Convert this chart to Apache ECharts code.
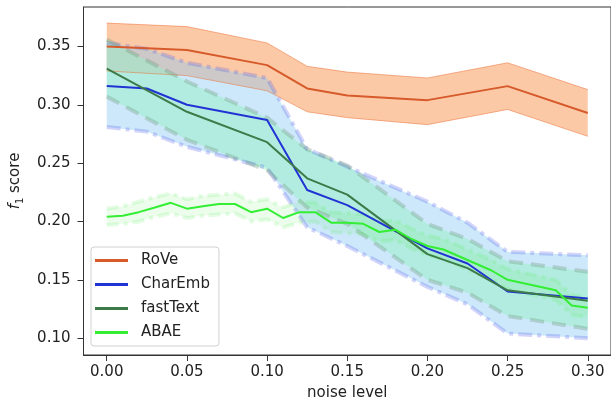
<!DOCTYPE html>
<html>
<head>
<meta charset="utf-8">
<script src="https://cdn.jsdelivr.net/npm/echarts@6/dist/echarts.min.js"></script>
<style>
  html, body { margin: 0; padding: 0; background: #fff; }
  #chart { width: 611px; height: 406px; }
</style>
</head>
<body>
<div id="chart"></div>
<script>
// tick labels
const xTicks = [0, 0.05, 0.10, 0.15, 0.20, 0.25, 0.30]
const yTicks = [0.10, 0.15, 0.20, 0.25, 0.30, 0.35]

// RoVe
const roveX = [0, 0.05, 0.10, 0.125, 0.15, 0.20, 0.25, 0.30]
const roveMean = [0.350, 0.347, 0.334, 0.314, 0.308, 0.304, 0.316, 0.293]
const roveUpper = [0.370, 0.367, 0.353, 0.333, 0.328, 0.323, 0.336, 0.313]
const roveLower = [0.329, 0.325, 0.312, 0.294, 0.289, 0.283, 0.296, 0.273]

// CharEmb
const charX = [0, 0.025, 0.05, 0.10, 0.125, 0.15, 0.20, 0.225, 0.25, 0.30]
const charMean = [0.316, 0.314, 0.300, 0.287, 0.227, 0.214, 0.177, 0.164, 0.140, 0.134]
const charUpper = [0.353, 0.348, 0.336, 0.323, 0.262, 0.247, 0.217, 0.199, 0.174, 0.171]
const charLower = [0.281, 0.277, 0.264, 0.246, 0.195, 0.179, 0.144, 0.129, 0.104, 0.100]

// fastText
const fastX = [0, 0.05, 0.10, 0.125, 0.15, 0.20, 0.225, 0.25, 0.30]
const fastMean = [0.331, 0.294, 0.268, 0.237, 0.223, 0.172, 0.160, 0.141, 0.132]
const fastUpper = [0.356, 0.320, 0.289, 0.262, 0.248, 0.198, 0.185, 0.166, 0.157]
const fastLower = [0.307, 0.270, 0.244, 0.212, 0.198, 0.150, 0.139, 0.119, 0.108]

// ABAE
const abaeX = [0, 0.01, 0.02, 0.03, 0.04, 0.05, 0.06, 0.07, 0.08, 0.09, 0.10,
  0.11, 0.12, 0.13, 0.14, 0.15, 0.16, 0.17, 0.18, 0.19, 0.20,
  0.21, 0.22, 0.23, 0.24, 0.25, 0.26, 0.27, 0.28, 0.29, 0.30]
const abaeMean = [0.204, 0.205, 0.208, 0.212, 0.216, 0.211, 0.213, 0.215, 0.215, 0.208, 0.211,
  0.203, 0.208, 0.208, 0.199, 0.199, 0.198, 0.191, 0.193, 0.185, 0.179,
  0.176, 0.170, 0.164, 0.158, 0.150, 0.147, 0.144, 0.141, 0.128, 0.126]
const abaeUpper = [0.211, 0.213, 0.217, 0.221, 0.224, 0.219, 0.222, 0.223, 0.224, 0.217, 0.219,
  0.212, 0.217, 0.216, 0.208, 0.207, 0.206, 0.200, 0.201, 0.194, 0.188,
  0.185, 0.179, 0.173, 0.167, 0.159, 0.156, 0.153, 0.150, 0.137, 0.135]
const abaeLower = [0.197, 0.198, 0.200, 0.204, 0.207, 0.203, 0.205, 0.206, 0.207, 0.200, 0.202,
  0.195, 0.199, 0.200, 0.191, 0.190, 0.189, 0.183, 0.184, 0.177, 0.171,
  0.168, 0.162, 0.156, 0.150, 0.142, 0.139, 0.136, 0.133, 0.120, 0.118]

const FONT = 'DejaVu Sans'

const zip = (xs, ys) => xs.map((x, i) => [x, ys[i]])

// filled band between lower and upper, drawn as one polygon
const band = (name, xs, lo, hi, fill) => ({
  name: name,
  type: 'custom',
  z: 1,
  silent: true,
  data: xs.map((x, i) => [x, lo[i], hi[i]]),
  encode: { x: 0, y: [1, 2] },
  renderItem: (params, api) => {
    if (params.dataIndex !== 0) return
    const pts = []
    xs.forEach((x, i) => pts.push(api.coord([x, hi[i]])))
    for (let i = xs.length - 1; i >= 0; i--) pts.push(api.coord([xs[i], lo[i]]))
    return { type: 'polygon', shape: { points: pts }, style: { fill: fill } }
  }
})

const edge = (name, xs, ys, lineStyle) => ({
  name: name,
  type: 'line',
  z: 2,
  silent: true,
  symbol: 'none',
  data: zip(xs, ys),
  lineStyle: lineStyle
})

const main = (name, xs, ys, color) => ({
  name: name,
  type: 'line',
  z: 3,
  symbol: 'none',
  color: color,
  data: zip(xs, ys),
  lineStyle: { color: color, width: 2 }
})

const charEdge = { color: 'rgba(80,90,230,0.26)', width: 4, type: [14, 5, 4, 5] }
const fastEdge = { color: 'rgba(110,150,120,0.32)', width: 4, type: [14, 8] }
const abaeEdge = { color: 'rgba(90,235,90,0.16)', width: 4, type: [12, 5, 4, 5] }
const roveEdge = { color: 'rgba(235,110,50,0.5)', width: 1 }

// y tick marks: small vertical-axis stubs drawn as a markLine-free helper axis
const chart = echarts.init(document.getElementById('chart'))
chart.setOption({
  animation: false,
  grid: {
    left: 83, top: 7, width: 533, height: 348,
    show: true, borderColor: '#333', borderWidth: 1, backgroundColor: 'transparent'
  },
  legend: {
    data: ['RoVe', 'CharEmb', 'fastText', 'ABAE'],
    orient: 'vertical',
    left: 91, top: 247,
    icon: 'rect',
    itemWidth: 33, itemHeight: 3,
    itemGap: 9,
    padding: [6, 9, 6, 4],
    backgroundColor: 'rgba(255,255,255,0.85)',
    borderColor: '#d0d0d0', borderWidth: 1, borderRadius: 3,
    textStyle: { fontFamily: FONT, fontSize: 15, color: '#222', padding: [0, 0, 0, 8] }
  },
  xAxis: {
    type: 'value',
    position: 'bottom',
    min: -0.0145, max: 0.3145,
    name: 'noise level',
    nameLocation: 'middle',
    nameGap: 31,
    nameTextStyle: { fontFamily: FONT, fontSize: 15, color: '#222' },
    axisLine: { show: true, onZero: false, lineStyle: { color: '#333' } },
    splitLine: { show: false },
    axisTick: { show: true, length: 6, lineStyle: { color: '#333' }, customValues: xTicks },
    axisLabel: {
      customValues: xTicks,
      margin: 10,
      fontFamily: FONT, fontSize: 15, color: '#222',
      formatter: v => v.toFixed(2)
    }
  },
  yAxis: {
    type: 'value',
    position: 'left',
    min: 0.0856, max: 0.3838,
    splitNumber: 5,
    name: '{f|f}{s|1}{n| score}',
    nameLocation: 'middle',
    nameRotate: 90,
    nameGap: 58,
    nameTextStyle: {
      fontFamily: FONT, fontSize: 15, color: '#222',
      rich: {
        f: { fontFamily: FONT, fontSize: 15, fontStyle: 'italic', color: '#222', lineHeight: 20, verticalAlign: 'middle' },
        s: { fontFamily: FONT, fontSize: 10, color: '#222', lineHeight: 20, verticalAlign: 'bottom' },
        n: { fontFamily: FONT, fontSize: 15, color: '#222', lineHeight: 20, verticalAlign: 'middle' }
      }
    },
    axisLine: { show: true, onZero: false, lineStyle: { color: '#333' } },
    splitLine: { show: false },
    axisTick: { show: true, length: 6, lineStyle: { color: '#333' }, customValues: yTicks },
    axisLabel: {
      customValues: yTicks,
      margin: 13,
      fontFamily: FONT, fontSize: 15, color: '#222',
      formatter: v => v.toFixed(2)
    }
  },
  series: [
    band('roveBand', roveX, roveLower, roveUpper, 'rgba(249,135,60,0.45)'),
    band('charBand', charX, charLower, charUpper, 'rgba(135,200,245,0.42)'),
    band('fastBand', fastX, fastLower, fastUpper, 'rgba(151,240,197,0.5)'),
    band('abaeBand', abaeX, abaeLower, abaeUpper, 'rgba(100,240,100,0.12)'),

    edge('roveUp', roveX, roveUpper, roveEdge),
    edge('roveLo', roveX, roveLower, roveEdge),
    edge('charUp', charX, charUpper, charEdge),
    edge('charLo', charX, charLower, charEdge),
    edge('fastUp', fastX, fastUpper, fastEdge),
    edge('fastLo', fastX, fastLower, fastEdge),
    edge('abaeUp', abaeX, abaeUpper, abaeEdge),
    edge('abaeLo', abaeX, abaeLower, abaeEdge),

    main('RoVe', roveX, roveMean, '#d65a2a'),
    main('CharEmb', charX, charMean, '#2233d4'),
    main('fastText', fastX, fastMean, '#3c7a48'),
    main('ABAE', abaeX, abaeMean, '#33ee33')
  ]
})
</script>
</body>
</html>
